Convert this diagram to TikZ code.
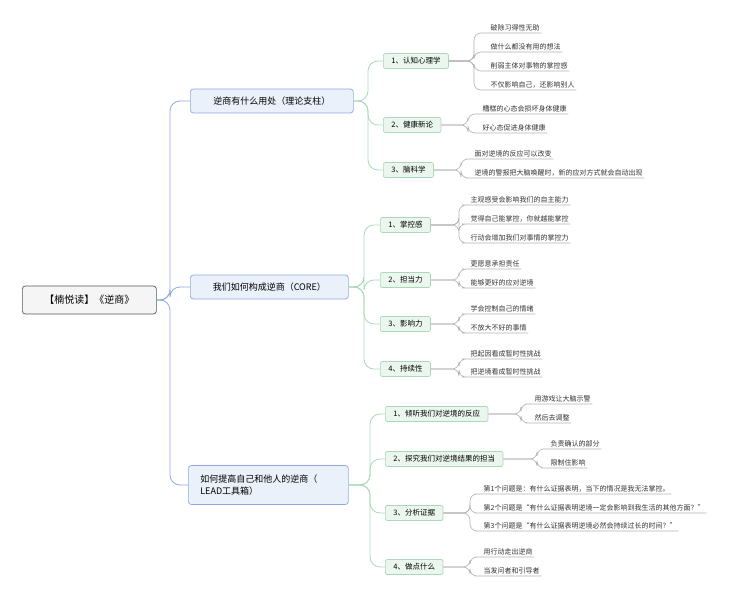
\documentclass[tikz,border=0pt]{standalone}
\usepackage{fontspec}
\setmainfont{Noto Sans CJK SC}
\begin{document}
\begin{tikzpicture}[x=1pt,y=-1pt,
  rootbox/.style={draw=gray!70!black,fill=gray!8,rounded corners=3,anchor=west,minimum height=28,minimum width=134,font=\fontsize{10}{12}\selectfont,line width=0.7},
  lone/.style={draw=lblue,fill=lfill,rounded corners=3,anchor=west,minimum height=24,inner xsep=12,font=\fontsize{9}{12}\selectfont,line width=0.7,align=left},
  ltwo/.style={draw=gborder,fill=gfill,rounded corners=2,anchor=west,minimum height=15,inner xsep=8,font=\fontsize{7.5}{9}\selectfont,line width=0.7},
  leaf/.style={anchor=south west,inner sep=1.5,font=\fontsize{7}{8}\selectfont,text=black!80},
  c1/.style={draw=lblue,line width=0.8,rounded corners=10},
  c2/.style={draw=gborder,line width=0.8,rounded corners=10},
  c3/.style={draw=black!30,line width=0.6,rounded corners=7}]
\definecolor{lblue}{HTML}{8FAADC}
\definecolor{lfill}{HTML}{EAF1FA}
\definecolor{gborder}{HTML}{A9D9B9}
\definecolor{gfill}{HTML}{EBF6EE}
\useasboundingbox (0,0) rectangle (745,600);
\node[rootbox] (r) at (22,300) {【楠悦读】《逆商》};
\node[lone,minimum width=163] (A) at (190,101) {逆商有什么用处（理论支柱）};
\node[lone,minimum width=158] (B) at (190,287) {我们如何构成逆商（CORE）};
\node[lone,minimum width=160,minimum height=39,text width=136] (C) at (188,485) {如何提高自己和他人的逆商（\\LEAD工具箱）};
\foreach \n in {A,B,C}{\draw[c1] (r.east) -- (170,300) |- (\n.west);}
% level 2
\node[ltwo] (A1) at (383,61) {1、认知心理学};
\node[ltwo] (A2) at (383,125) {2、健康新论};
\node[ltwo] (A3) at (383,170) {3、脑科学};
\node[ltwo] (B1) at (380,225) {1、掌控感};
\node[ltwo] (B2) at (380,280) {2、担当力};
\node[ltwo] (B3) at (380,324) {3、影响力};
\node[ltwo] (B4) at (380,369) {4、持续性};
\node[ltwo] (C1) at (385,414) {1、倾听我们对逆境的反应};
\node[ltwo] (C2) at (385,459) {2、探究我们对逆境结果的担当};
\node[ltwo] (C3) at (385,513) {3、分析证据};
\node[ltwo] (C4) at (385,567) {4、做点什么};
\foreach \n in {A1,A2,A3}{\draw[c2] (A.east) -- (368,101) |- (\n.west);}
\foreach \n in {B1,B2,B3,B4}{\draw[c2] (B.east) -- (364,287) |- (\n.west);}
\foreach \n in {C1,C2,C3,C4}{\draw[c2] (C.east) -- (370,485) |- (\n.west);}
% leaves
\node[leaf] (a11) at (489,33) {破除习得性无助};
\node[leaf] (a12) at (489,52) {做什么都没有用的想法};
\node[leaf] (a13) at (489,71) {削弱主体对事物的掌控感};
\node[leaf] (a14) at (489,90) {不仅影响自己，还影响别人};
\node[leaf] (a21) at (481,114) {糟糕的心态会损坏身体健康};
\node[leaf] (a22) at (481,133) {好心态促进身体健康};
\node[leaf] (a31) at (473,159) {面对逆境的反应可以改变};
\node[leaf] (a32) at (473,178) {逆境的警报把大脑唤醒时，新的应对方式就会自动出现};
\node[leaf] (b11) at (469,205) {主观感受会影响我们的自主能力};
\node[leaf] (b12) at (469,224) {觉得自己能掌控，你就越能掌控};
\node[leaf] (b13) at (469,243) {行动会增加我们对事情的掌控力};
\node[leaf] (b21) at (469,269) {更愿意承担责任};
\node[leaf] (b22) at (469,288) {能够更好的应对逆境};
\node[leaf] (b31) at (469,314) {学会控制自己的情绪};
\node[leaf] (b32) at (469,333) {不放大不好的事情};
\node[leaf] (b41) at (469,359) {把起因看成暂时性挑战};
\node[leaf] (b42) at (469,377) {把逆境看成暂时性挑战};
\node[leaf] (c11) at (533,404) {用游戏让大脑示警};
\node[leaf] (c12) at (533,423) {然后去调整};
\node[leaf] (c21) at (549,449) {负责确认的部分};
\node[leaf] (c22) at (549,468) {限制住影响};
\node[leaf] (c31) at (482,494) {第1个问题是：有什么证据表明，当下的情况是我无法掌控。};
\node[leaf] (c32) at (482,513) {第2个问题是“有什么证据表明逆境一定会影响到我生活的其他方面？”};
\node[leaf] (c33) at (482,531) {第3个问题是“有什么证据表明逆境必然会持续过长的时间？”};
\node[leaf] (c41) at (482,557) {用行动走出逆商};
\node[leaf] (c42) at (482,576) {当发问者和引导者};
\foreach \p/\l/\x in {A1/a11/474,A1/a12/474,A1/a13/474,A1/a14/474,A2/a21/468,A2/a22/468,A3/a31/461,A3/a32/461,
  B1/b11/459,B1/b12/459,B1/b13/459,B2/b21/459,B2/b22/459,B3/b31/459,B3/b32/459,B4/b41/459,B4/b42/459,
  C1/c11/521,C1/c12/521,C2/c21/537,C2/c22/537,C3/c31/470,C3/c32/470,C3/c33/470,C4/c41/470,C4/c42/470}{
  \draw[c3] (\p.east) -- (\x,0 |- \p.east) |- (\l.south west) -- (\l.south east);}
\end{tikzpicture}
\end{document}
